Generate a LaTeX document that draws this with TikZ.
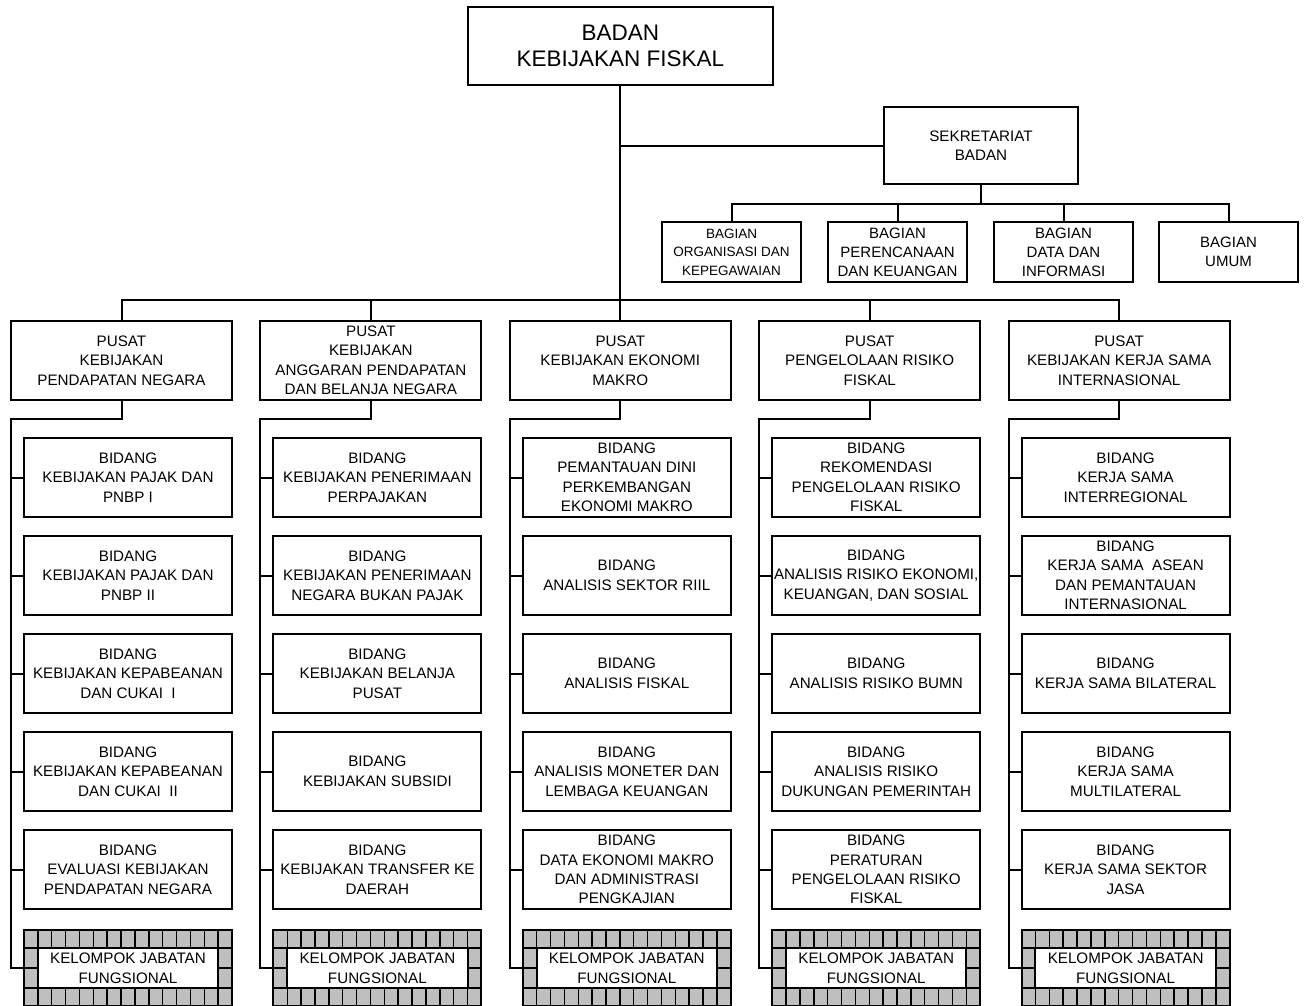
\documentclass[tikz,border=0pt]{standalone}
\usepackage{fontspec}
\setmainfont{Liberation Sans}
\usetikzlibrary{positioning,calc}

\begin{document}
\begin{tikzpicture}[x=1pt, y=-1pt,
    node distance=19pt and 28.4pt,
    line width=2pt,
    box/.style={draw, align=center, inner sep=1pt, outer sep=0pt,
                font=\fontsize{15.2pt}{19.5pt}\selectfont},
    pusat/.style={box, minimum width=221pt, minimum height=79pt},
    bid/.style={box, minimum width=208pt, minimum height=79pt},
    bag/.style={box, minimum width=139pt, minimum height=60pt,
                font=\fontsize{15pt}{19pt}\selectfont},
    kjf/.style={draw, outer sep=0pt, fill=gray!50, minimum width=208pt, minimum height=76pt,
                path picture={
                  \foreach \g in {1,...,14}
                    \draw[line width=1.5pt] ([xshift=\g*13.867pt]path picture bounding box.north west)
                      -- ([xshift=\g*13.867pt]path picture bounding box.south west);
                  \foreach \h in {-20,0,20}
                    \draw[line width=1.5pt] ([yshift=\h pt]path picture bounding box.west)
                      -- ([yshift=\h pt]path picture bounding box.east);
                }},
    kjtext/.style={box, fill=white, minimum width=180.3pt, minimum height=40pt}]
  \useasboundingbox (0,0) rectangle (1306,1005);
  \clip (0,0) rectangle (1306,1005);

  % head and secretariat
  \node[box, minimum width=305pt, minimum height=78pt,
        font=\fontsize{22.5pt}{26pt}\selectfont] (bkf) at (620.3,46) {BADAN\\KEBIJAKAN FISKAL};
  \node[box, minimum width=194pt, minimum height=77pt] (sek) at (981,145.5) {SEKRETARIAT\\BADAN};
  \node[bag, font=\fontsize{13.5pt}{18.5pt}\selectfont] (bg1) at (731.5,252) {BAGIAN\\ORGANISASI DAN\\KEPEGAWAIAN};
  \node[bag, right=27pt of bg1] (bg2) {BAGIAN\\PERENCANAAN\\DAN KEUANGAN};
  \node[bag, right=27pt of bg2] (bg3) {BAGIAN\\DATA DAN\\INFORMASI};
  \node[bag, right=26pt of bg3] (bg4) {BAGIAN\\UMUM};

  % pusat row
  \node[pusat] (p1) at (121.5,360.5) {PUSAT\\KEBIJAKAN\\PENDAPATAN NEGARA};
  \node[pusat, right=of p1] (p2) {PUSAT\\KEBIJAKAN\\ANGGARAN PENDAPATAN\\DAN BELANJA NEGARA};
  \node[pusat, right=of p2] (p3) {PUSAT\\KEBIJAKAN EKONOMI\\MAKRO};
  \node[pusat, right=of p3] (p4) {PUSAT\\PENGELOLAAN RISIKO\\FISKAL};
  \node[pusat, right=of p4] (p5) {PUSAT\\KEBIJAKAN KERJA SAMA\\INTERNASIONAL};

  % column 1
  \node[bid, anchor=north east] (b11) at ([yshift=-38pt]p1.south east) {BIDANG\\KEBIJAKAN PAJAK DAN\\PNBP I};
  \node[bid, below=of b11] (b12) {BIDANG\\KEBIJAKAN PAJAK DAN\\PNBP II};
  \node[bid, below=of b12] (b13) {BIDANG\\KEBIJAKAN KEPABEANAN\\DAN CUKAI\ \ I};
  \node[bid, below=of b13] (b14) {BIDANG\\KEBIJAKAN KEPABEANAN\\DAN CUKAI\ \ II};
  \node[bid, below=of b14] (b15) {BIDANG\\EVALUASI KEBIJAKAN\\PENDAPATAN NEGARA};

  % column 2
  \node[bid, anchor=north east] (b21) at ([yshift=-38pt]p2.south east) {BIDANG\\KEBIJAKAN PENERIMAAN\\PERPAJAKAN};
  \node[bid, below=of b21] (b22) {BIDANG\\KEBIJAKAN PENERIMAAN\\NEGARA BUKAN PAJAK};
  \node[bid, below=of b22] (b23) {BIDANG\\KEBIJAKAN BELANJA\\PUSAT};
  \node[bid, below=of b23] (b24) {BIDANG\\KEBIJAKAN SUBSIDI};
  \node[bid, below=of b24] (b25) {BIDANG\\KEBIJAKAN TRANSFER KE\\DAERAH};

  % column 3
  \node[bid, anchor=north east] (b31) at ([yshift=-38pt]p3.south east) {BIDANG\\PEMANTAUAN DINI\\PERKEMBANGAN\\EKONOMI MAKRO};
  \node[bid, below=of b31] (b32) {BIDANG\\ANALISIS SEKTOR RIIL};
  \node[bid, below=of b32] (b33) {BIDANG\\ANALISIS FISKAL};
  \node[bid, below=of b33] (b34) {BIDANG\\ANALISIS MONETER DAN\\LEMBAGA KEUANGAN};
  \node[bid, below=of b34] (b35) {BIDANG\\DATA EKONOMI MAKRO\\DAN ADMINISTRASI\\PENGKAJIAN};

  % column 4
  \node[bid, anchor=north east] (b41) at ([yshift=-38pt]p4.south east) {BIDANG\\REKOMENDASI\\PENGELOLAAN RISIKO\\FISKAL};
  \node[bid, below=of b41] (b42) {BIDANG\\ANALISIS RISIKO EKONOMI,\\KEUANGAN, DAN SOSIAL};
  \node[bid, below=of b42] (b43) {BIDANG\\ANALISIS RISIKO BUMN};
  \node[bid, below=of b43] (b44) {BIDANG\\ANALISIS RISIKO\\DUKUNGAN PEMERINTAH};
  \node[bid, below=of b44] (b45) {BIDANG\\PERATURAN\\PENGELOLAAN RISIKO\\FISKAL};

  % column 5
  \node[bid, anchor=north east] (b51) at ([yshift=-38pt]p5.south east) {BIDANG\\KERJA SAMA\\INTERREGIONAL};
  \node[bid, below=of b51] (b52) {BIDANG\\KERJA SAMA\ \ ASEAN\\DAN PEMANTAUAN\\INTERNASIONAL};
  \node[bid, below=of b52] (b53) {BIDANG\\KERJA SAMA BILATERAL};
  \node[bid, below=of b53] (b54) {BIDANG\\KERJA SAMA\\MULTILATERAL};
  \node[bid, below=of b54] (b55) {BIDANG\\KERJA SAMA SEKTOR\\JASA};

  % functional groups
  \foreach \c in {1,...,5} {
    \node[kjf, below=21pt of b\c5] (k\c) {};
    \node[kjtext] (kt\c) at (k\c) {KELOMPOK JABATAN\\FUNGSIONAL};
  }

  % connectors
  \coordinate (bus) at (620.3,300);
  \coordinate (sbus) at (981,204);
  \draw (bkf.south) |- (sek.west);
  \draw (bkf.south) -- (bus);
  \foreach \c in {1,...,5}
    \draw (bus) -| (p\c.north);
  \draw (sek.south) -- (sbus);
  \foreach \g in {1,...,4}
    \draw (sbus) -| (bg\g.north);
  \foreach \c in {1,...,5} {
    \coordinate (s\c) at ([yshift=-19pt]p\c.south west);
    \draw (p\c.south) |- (s\c) |- (k\c.west);
    \foreach \j in {1,...,5}
      \draw (s\c |- b\c\j.west) -- (b\c\j.west);
  }
\end{tikzpicture}
\end{document}
